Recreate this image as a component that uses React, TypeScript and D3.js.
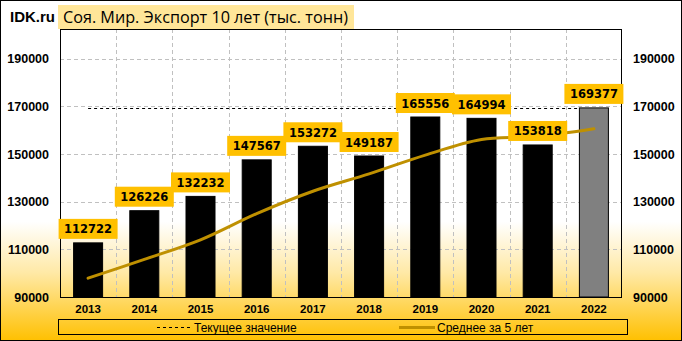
import React from "react";
import * as d3 from "d3";

const years = ["2013", "2014", "2015", "2016", "2017", "2018", "2019", "2020", "2021", "2022"];
const exportValues = [112722, 126226, 132232, 147567, 153272, 149187, 165556, 164994, 153818, 169377];
const avg5 = [97900, 105800, 114000, 125000, 134404, 141697, 149563, 156115, 157365, 160586];
const currentValue = 169377;
const yTicks = [90000, 110000, 130000, 150000, 170000, 190000];
const titleText = "Соя. Мир. Экспорт 10 лет (тыс. тонн)";
const legendCurrent = "Текущее значение";
const legendAvg = "Среднее за 5 лет";

const W = 682, H = 341;
const L = 60, R = 622, T = 29, B = 297;

export default function App() {
  const x = d3.scaleBand<string>().domain(years).range([L, R]).paddingInner(0).paddingOuter(0);
  const y = d3.scaleLinear().domain([90000, 202500]).range([B, T]);
  const bw = 29;
  const cx = (yr: string) => (x(yr) as number) + x.bandwidth() / 2;
  const line = d3
    .line<number>()
    .x((_, i) => cx(years[i]))
    .y((d) => y(d))
    .curve(d3.curveCatmullRom.alpha(0.5));
  const lblFont = "'DejaVu Sans', Verdana, sans-serif";
  const axFont = "'Liberation Sans', Arial, sans-serif";

  return (
    <svg width={W} height={H} style={{ position: "absolute", left: 0, top: 0 }}>
      <defs>
        <linearGradient id="bg" x1="0" y1="0" x2="0" y2="1">
          <stop offset="0" stopColor="#ffffff" />
          <stop offset="0.65" stopColor="#ffffff" />
          <stop offset="0.8" stopColor="#ffe9a6" />
          <stop offset="1" stopColor="#ffc000" />
        </linearGradient>
      </defs>
      <rect x={0} y={0} width={W} height={H} fill="url(#bg)" />
      <rect x={0.5} y={0.5} width={W - 1} height={H - 1} fill="none" stroke="#000" />

      {/* grid */}
      {yTicks.filter((t) => t > 90000).map((t) => (
        <line key={t} x1={L} x2={R} y1={Math.round(y(t)) + 0.5} y2={Math.round(y(t)) + 0.5} stroke="#c0c0c0" strokeDasharray="4,3" />
      ))}
      {years.slice(1).map((yr) => (
        <line key={yr} x1={Math.round(x(yr) as number) + 0.5} x2={Math.round(x(yr) as number) + 0.5} y1={T} y2={B} stroke="#c0c0c0" strokeDasharray="4,3" />
      ))}

      {/* current value line */}
      <line x1={cx(years[0])} x2={cx(years[years.length - 1])} y1={Math.round(y(currentValue)) + 0.5} y2={Math.round(y(currentValue)) + 0.5} stroke="#000" strokeDasharray="3,3" />

      {/* bars */}
      {exportValues.map((v, i) => {
        const last = i === exportValues.length - 1;
        return (
          <rect key={i} x={cx(years[i]) - bw / 2} y={y(v)} width={bw} height={B - y(v)} fill={last ? "#808080" : "#000"} stroke="#000" strokeWidth={1} />
        );
      })}

      {/* average line */}
      <path d={line(avg5) || ""} fill="none" stroke="#bf9000" strokeWidth={3} strokeLinecap="round" />

      {/* plot border */}
      <rect x={L + 0.5} y={T + 0.5} width={R - L - 1} height={B - T} fill="none" stroke="#000" />

      {/* value labels */}
      {exportValues.map((v, i) => {
        const top = y(v);
        return (
          <g key={i}>
            <rect x={cx(years[i]) - 29.5} y={top - 24} width={59} height={20} fill="#ffc000" />
            <text x={cx(years[i])} y={top - 9.5} textAnchor="middle" fontFamily={lblFont} fontWeight="bold" fontSize={11.5} fill="#000">{v}</text>
          </g>
        );
      })}

      {/* y axis labels */}
      {yTicks.map((t) => (
        <g key={t}>
          <text x={49} y={y(t) + 4.5} textAnchor="end" fontFamily={axFont} fontWeight="bold" fontSize={12.5} fill="#000">{t}</text>
          <text x={633} y={y(t) + 4.5} textAnchor="start" fontFamily={axFont} fontWeight="bold" fontSize={12.5} fill="#000">{t}</text>
        </g>
      ))}

      {/* x labels */}
      {years.map((yr) => (
        <text key={yr} x={cx(yr)} y={313} textAnchor="middle" fontFamily={axFont} fontWeight="bold" fontSize={11.5} fill="#000">{yr}</text>
      ))}

      {/* legend */}
      <rect x={58.5} y={319.5} width={569} height={15} fill="none" stroke="#000" />
      <line x1={157} x2={190} y1={327.5} y2={327.5} stroke="#000" strokeDasharray="3,3" />
      <text x={194} y={331.5} fontFamily={axFont} fontSize={12} fill="#000">{legendCurrent}</text>
      <line x1={399} x2={435} y1={327.5} y2={327.5} stroke="#bf9000" strokeWidth={3} />
      <text x={437} y={331.5} fontFamily={axFont} fontSize={12} fill="#000">{legendAvg}</text>

      {/* title */}
      <rect x={58} y={5} width={296} height={24} fill="#ffe699" />
      <text x={63} y={23} fontFamily="'Open Sans', 'Liberation Sans', sans-serif" fontSize={16.2} fill="#000">{titleText}</text>
      <text x={10} y={22} fontFamily={axFont} fontWeight="bold" fontSize={15} fill="#000">IDK.ru</text>
    </svg>
  );
}
